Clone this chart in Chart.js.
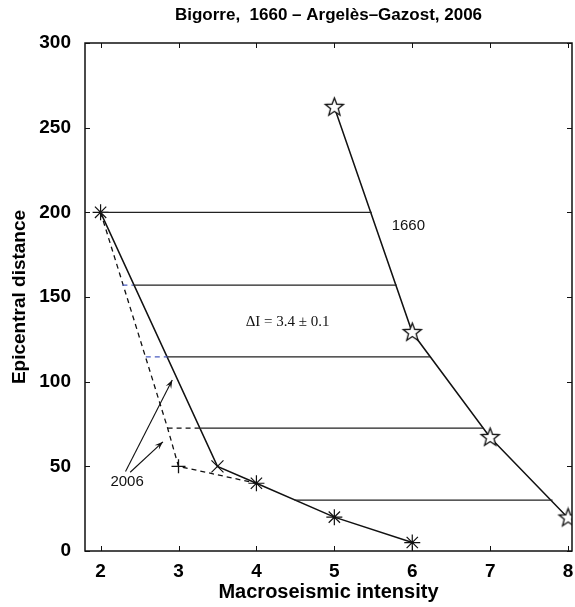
<!DOCTYPE html>
<html>
<head>
    <meta charset="UTF-8">
    <title>Bigorre 1660 - Argelès-Gazost 2006</title>
    <script src="https://cdn.jsdelivr.net/npm/chart.js"></script>
    <style>
        body { margin: 0; background: #fff; }
        #wrap { width: 575px; height: 607px; position: relative; }
    </style>
</head>
<body>
<div id="wrap"><canvas id="chart"></canvas></div>
<script>
// 1660 event (stars)
const int1660 = [5, 6, 7, 8];
const dist1660 = [262, 129, 67, 19.5];

// 2006 event, solid curve (asterisks, x at 3.5)
const int2006 = [2, 3.5, 4, 5, 6];
const dist2006 = [200, 50, 40, 20, 5];

// 2006 event, dashed alternative curve (+ at 3)
const int2006b = [2, 2.86, 3, 4];
const dist2006b = [200, 72.6, 50, 40];

// horizontal shift lines (2006 curve -> 1660 curve)
const shiftLevels = [200, 157, 114.6, 72.6, 30];
const shiftStart = [2, 2.42, 2.86, 3.28, 4.49];
const shiftEnd = [5.48, 5.8, 6.23, 6.91, 7.8];

// short dashed pieces between the two 2006 curves
const dashLevels = [157, 114.6, 72.6];
const dashStart = [2.28, 2.58, 2.86];
const dashEnd = [2.42, 2.86, 3.28];
const dashColors = ['#4a5cc0', '#4a5cc0', '#111'];

const xTicks = [2, 3, 4, 5, 6, 7, 8];
const yTicks = [0, 50, 100, 150, 200, 250, 300];

const titleText = 'Bigorre,  1660 \u2013 Argel\u00e8s\u2013Gazost, 2006';

// pentagram marker
function makeStar(r) {
    const c = document.createElement('canvas');
    const s = Math.ceil(r * 2 + 4);
    c.width = s; c.height = s;
    const g = c.getContext('2d');
    g.beginPath();
    for (let i = 0; i < 10; i++) {
        const rad = i % 2 === 0 ? r : r * 0.42;
        const a = -Math.PI / 2 + i * Math.PI / 5;
        const px = s / 2 + rad * Math.cos(a), py = s / 2 + rad * Math.sin(a);
        if (i === 0) g.moveTo(px, py); else g.lineTo(px, py);
    }
    g.closePath();
    g.fillStyle = '#fff';
    g.fill();
    g.lineWidth = 1.3;
    g.strokeStyle = '#111';
    g.stroke();
    return c;
}
const starImg = makeStar(9.5);

function pts(xs, ys) { return xs.map((x, i) => ({ x: x, y: ys[i] })); }

const shiftData = [];
shiftLevels.forEach((y, i) => {
    shiftData.push({ x: shiftStart[i], y: y }, { x: shiftEnd[i], y: y }, { x: shiftEnd[i], y: null });
});

const dashSets = dashLevels.map((y, i) => ({
    data: [{ x: dashStart[i], y: y }, { x: dashEnd[i], y: y }],
    showLine: true, borderColor: dashColors[i], borderWidth: 1.2, borderDash: [5, 4],
    pointRadius: 0
}));

const annotations = {
    id: 'annotations',
    afterDatasetsDraw(chart) {
        const { ctx, scales: { x, y }, chartArea } = chart;
        ctx.save();
        ctx.fillStyle = '#111';
        ctx.textAlign = 'center';
        ctx.textBaseline = 'middle';
        ctx.font = '15px "Liberation Sans", Arial, sans-serif';
        ctx.fillText('1660', x.getPixelForValue(5.95), y.getPixelForValue(192));
        ctx.fillText('2006', x.getPixelForValue(2.34), y.getPixelForValue(41));
        ctx.font = '15px "Liberation Serif", "Times New Roman", serif';
        ctx.fillText('\u0394I = 3.4 \u00b1 0.1', x.getPixelForValue(4.4), y.getPixelForValue(135));

        // arrows pointing to the 2006 curves
        const arrows = [[2.32, 47, 2.92, 101], [2.38, 46.5, 2.8, 64.5]];
        ctx.strokeStyle = '#111';
        ctx.lineWidth = 1.1;
        arrows.forEach(a => {
            const x0 = x.getPixelForValue(a[0]), y0 = y.getPixelForValue(a[1]);
            const x1 = x.getPixelForValue(a[2]), y1 = y.getPixelForValue(a[3]);
            ctx.beginPath(); ctx.moveTo(x0, y0); ctx.lineTo(x1, y1); ctx.stroke();
            const ang = Math.atan2(y1 - y0, x1 - x0);
            ctx.beginPath();
            ctx.moveTo(x1, y1);
            ctx.lineTo(x1 - 9 * Math.cos(ang - 0.35), y1 - 9 * Math.sin(ang - 0.35));
            ctx.lineTo(x1 - 5 * Math.cos(ang), y1 - 5 * Math.sin(ang));
            ctx.lineTo(x1 - 9 * Math.cos(ang + 0.35), y1 - 9 * Math.sin(ang + 0.35));
            ctx.closePath();
            ctx.fill();
        });

        // title over the plot area
        ctx.font = 'bold 17px "Liberation Sans", Arial, sans-serif';
        ctx.fillStyle = '#000';
        ctx.fillText(titleText, (chartArea.left + chartArea.right) / 2, 15);
        ctx.restore();
    },
    afterDraw(chart) {
        // matlab style box with inward ticks
        const { ctx, scales: { x, y }, chartArea: a } = chart;
        ctx.save();
        ctx.strokeStyle = '#111';
        ctx.lineWidth = 1.5;
        ctx.strokeRect(a.left, a.top, a.right - a.left, a.bottom - a.top);
        ctx.lineWidth = 1;
        ctx.beginPath();
        xTicks.forEach(v => {
            const px = Math.round(x.getPixelForValue(v)) + 0.5;
            ctx.moveTo(px, a.bottom); ctx.lineTo(px, a.bottom - 5);
            ctx.moveTo(px, a.top); ctx.lineTo(px, a.top + 5);
        });
        yTicks.forEach(v => {
            const py = Math.round(y.getPixelForValue(v)) + 0.5;
            ctx.moveTo(a.left, py); ctx.lineTo(a.left + 5, py);
            ctx.moveTo(a.right, py); ctx.lineTo(a.right - 5, py);
        });
        ctx.stroke();
        ctx.restore();
    }
};

new Chart(document.getElementById('chart'), {
    type: 'scatter',
    data: {
        datasets: [
            {
                data: shiftData, showLine: true, spanGaps: false,
                borderColor: '#222', borderWidth: 1.2, pointRadius: 0
            },
            ...dashSets,
            {
                data: pts(int2006b, dist2006b), showLine: true,
                borderColor: '#111', borderWidth: 1.3, borderDash: [5, 4],
                pointStyle: 'cross', pointRadius: [0, 0, 7, 0],
                pointBorderColor: '#111', pointBorderWidth: 1.3
            },
            {
                data: pts(int2006, dist2006), showLine: true,
                borderColor: '#111', borderWidth: 1.5,
                pointStyle: ['star', 'crossRot', 'star', 'star', 'star'],
                pointRadius: [8, 8.5, 8, 8, 8],
                pointBorderColor: '#111', pointBorderWidth: 1.2
            },
            {
                data: pts(int1660, dist1660), showLine: true,
                borderColor: '#111', borderWidth: 1.5,
                pointStyle: starImg, pointRadius: 9
            }
        ]
    },
    options: {
        responsive: true,
        maintainAspectRatio: false,
        animation: false,
        layout: { autoPadding: false, padding: { top: 43, right: 3, left: 0, bottom: 0 } },
        plugins: { legend: { display: false }, tooltip: { enabled: false } },
        scales: {
            x: {
                type: 'linear', min: 1.8, max: 8.05,
                grid: { display: false },
                border: { display: false },
                afterBuildTicks: s => { s.ticks = xTicks.map(v => ({ value: v })); },
                afterFit: s => { s.height = 56; s.paddingLeft = 0; s.paddingRight = 0; },
                ticks: { color: '#000', padding: 1, font: { family: '"Liberation Sans", Arial', size: 19, weight: 'bold' } },
                title: {
                    display: true, text: 'Macroseismic intensity', color: '#000',
                    font: { family: '"Liberation Sans", Arial', size: 20, weight: 'bold' },
                    padding: { top: 0, bottom: 3 }
                }
            },
            y: {
                min: 0, max: 300,
                grid: { display: false },
                border: { display: false },
                afterBuildTicks: s => { s.ticks = yTicks.map(v => ({ value: v })); },
                afterFit: s => { s.width = 85; s.paddingTop = 0; s.paddingBottom = 0; },
                ticks: { color: '#000', padding: 6, font: { family: '"Liberation Sans", Arial', size: 19, weight: 'bold' } },
                title: {
                    display: true, text: 'Epicentral distance', color: '#000',
                    font: { family: '"Liberation Sans", Arial', size: 19, weight: 'bold' },
                    padding: { top: 8, bottom: 0 }
                }
            }
        }
    },
    plugins: [annotations]
});
</script>
</body>
</html>
